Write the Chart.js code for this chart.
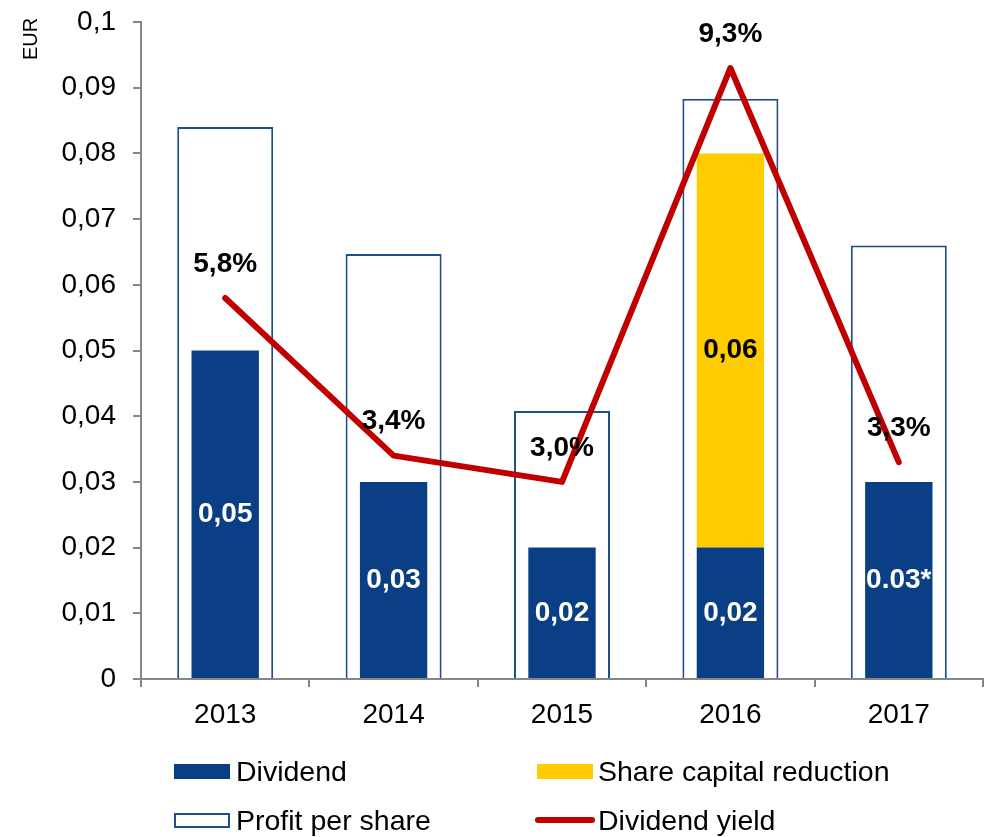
<!DOCTYPE html>
<html>
<head>
<meta charset="utf-8">
<script src="https://cdn.jsdelivr.net/npm/chart.js@4.4.0/dist/chart.umd.min.js"></script>
<style>
  html, body { margin: 0; padding: 0; background: #fff; }
  .wrap { position: relative; width: 984px; height: 837px; font-family: "Liberation Sans", Arial, sans-serif; }
  canvas { position: absolute; left: 0; top: 0; }
  .eur { position: absolute; left: 8px; top: 28px; font-size: 20px; color: #000; transform: rotate(-90deg); transform-origin: center; width: 44px; text-align: center; line-height: 22px; }
  .leg { position: absolute; font-size: 28.5px; color: #000; line-height: 28px; }
  .sw { position: absolute; }
</style>
</head>
<body>
<div class="wrap">
  <canvas id="chart" width="984" height="837"></canvas>
  <div class="eur">EUR</div>

  <div class="sw" style="left:174px;top:764px;width:56px;height:15px;background:#0B3F85"></div>
  <div class="leg" style="left:236px;top:757px">Dividend</div>
  <div class="sw" style="left:537px;top:764px;width:56px;height:15px;background:#FFCC00"></div>
  <div class="leg" style="left:598px;top:757px">Share capital reduction</div>

  <div class="sw" style="left:174px;top:813px;width:52px;height:11px;border:2px solid #1F4E8C;background:#fff"></div>
  <div class="leg" style="left:236px;top:806px">Profit per share</div>
  <div class="sw" style="left:535px;top:817px;width:60px;height:6px;border-radius:3px;background:#C00000"></div>
  <div class="leg" style="left:598px;top:806px">Dividend yield</div>
</div>
<script>
const ctx = document.getElementById('chart').getContext('2d')

const years = ['2013', '2014', '2015', '2016', '2017']
const dividend = [0.05, 0.03, 0.02, 0.02, 0.03]
const dividendLabels = ['0,05', '0,03', '0,02', '0,02', '0.03*']
const shareReduction = [null, null, null, 0.06, null]
const shareLabels = ['', '', '', '0,06', '']
const profit = [0.084, 0.0647, 0.0408, 0.0883, 0.066]
const yieldPct = [5.8, 3.4, 3.0, 9.3, 3.3]

const FONT = '"Liberation Sans", Arial, sans-serif'
const GREY = '#868686'

// labels on bars and line
const labelPlugin = {
  id: 'labels',
  afterDatasetsDraw(chart) {
    const c = chart.ctx
    c.save()
    c.font = 'bold 28px ' + FONT
    c.textAlign = 'center'
    c.textBaseline = 'middle'

    chart.getDatasetMeta(0).data.forEach((bar, i) => {
      c.fillStyle = '#fff'
      c.fillText(dividendLabels[i], bar.x, (bar.y + bar.base) / 2)
    })
    chart.getDatasetMeta(1).data.forEach((bar, i) => {
      if (!shareLabels[i]) return
      c.fillStyle = '#000'
      c.fillText(shareLabels[i], bar.x, (bar.y + bar.base) / 2)
    })
    chart.getDatasetMeta(3).data.forEach((pt, i) => {
      c.fillStyle = '#000'
      c.fillText(yieldPct[i].toFixed(1).replace('.', ',') + '%', pt.x, pt.y - 34)
    })
    c.restore()
  }
}

const chart = new Chart(ctx, {
  type: 'bar',
  data: {
    labels: years,
    datasets: [{
      label: 'Dividend',
      data: dividend,
      backgroundColor: '#0B3F85',
      stack: 'div',
      grouped: false,
      categoryPercentage: 1,
      barPercentage: 0.4,
      order: 1
    }, {
      label: 'Share capital reduction',
      data: shareReduction,
      backgroundColor: '#FFCC00',
      stack: 'div',
      grouped: false,
      categoryPercentage: 1,
      barPercentage: 0.4,
      order: 1
    }, {
      label: 'Profit per share',
      data: profit,
      backgroundColor: '#fff',
      borderColor: '#1F4E8C',
      borderWidth: 2,
      stack: 'profit',
      grouped: false,
      categoryPercentage: 1,
      barPercentage: 0.57,
      order: 2
    }, {
      type: 'line',
      label: 'Dividend yield',
      data: yieldPct,
      yAxisID: 'y2',
      borderColor: '#C00000',
      borderWidth: 6,
      borderCapStyle: 'round',
      borderJoinStyle: 'round',
      pointRadius: 0,
      tension: 0,
      order: 0
    }]
  },
  options: {
    responsive: false,
    animation: false,
    layout: { padding: { top: 22, right: 1, bottom: 98, left: 0 } },
    plugins: {
      legend: { display: false },
      tooltip: { enabled: false }
    },
    scales: {
      x: {
        stacked: true,
        grid: { drawOnChartArea: false, tickLength: 8, color: GREY, lineWidth: 2 },
        border: { color: GREY, width: 2 },
        ticks: { color: '#000', font: { family: FONT, size: 28 }, padding: 11 },
        afterFit(scale) {
          scale.height = 60
          scale.paddingLeft = 0
          scale.paddingRight = 0
        }
      },
      y: {
        stacked: true,
        min: 0,
        max: 0.1,
        grid: { drawOnChartArea: false, tickLength: 8, color: GREY, lineWidth: 2 },
        border: { color: GREY, width: 2 },
        ticks: {
          stepSize: 0.01,
          color: '#000',
          font: { family: FONT, size: 28 },
          padding: 17,
          callback: v => String(Math.round(v * 100) / 100).replace('.', ',')
        },
        afterFit(scale) {
          scale.width = 141
          scale.paddingTop = 0
          scale.paddingBottom = 0
        }
      },
      y2: {
        display: false,
        min: 0,
        max: 10
      }
    }
  },
  plugins: [labelPlugin]
})
</script>
</body>
</html>
